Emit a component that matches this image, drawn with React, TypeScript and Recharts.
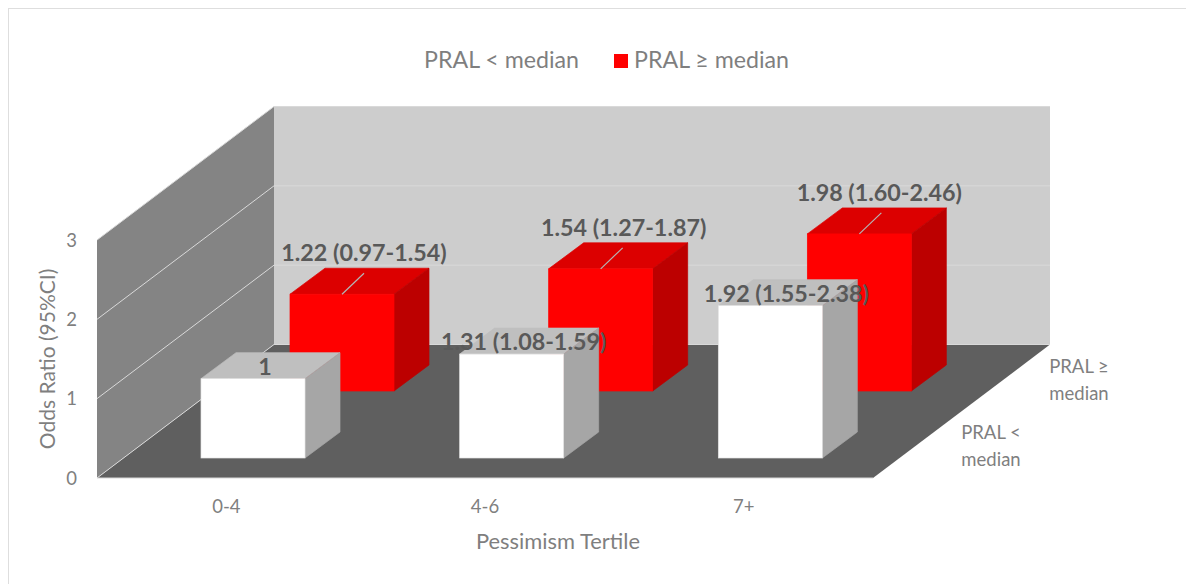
import React from 'react';
import { BarChart, Bar, XAxis, YAxis, Customized, LabelList, Legend, usePlotArea } from 'recharts';

const FONT = 'Lato, "Open Sans", sans-serif';
const categories = ['0-4', '4-6', '7+'];
const lowPral = [1, 1.31, 1.92];
const highPral = [1.22, 1.54, 1.98];
const lowLabels = ['1', '1.31 (1.08-1.59)', '1.92 (1.55-2.38)'];
const highLabels = ['1.22 (0.97-1.54)', '1.54 (1.27-1.87)', '1.98 (1.60-2.46)'];
const yTicks = [0, 1, 2, 3];
const depthLabels = [['PRAL <', 'median'], ['PRAL ≥', 'median']];
const seriesNames = ['PRAL < median', 'PRAL ≥ median'];

const data = categories.map((category, i) => ({
  category,
  low: lowPral[i],
  high: highPral[i],
}));

// Oblique projection of the chart's 3D box
const DEPTH_X = 177;
const DEPTH_Y = 133.5;
const BOX_DX = 35;
const BOX_DY = 26;

const Walls = () => {
  const area = usePlotArea();
  if (!area) return null;
  const { x, y, width, height } = area;
  const bottom = y + height;
  const right = x + width;
  return (
    <g>
      <polygon points={`${x},${y} ${x + DEPTH_X},${y - DEPTH_Y} ${x + DEPTH_X},${bottom - DEPTH_Y} ${x},${bottom}`} fill="#848484" />
      <polygon points={`${x + DEPTH_X},${y - DEPTH_Y} ${right + DEPTH_X},${y - DEPTH_Y} ${right + DEPTH_X},${bottom - DEPTH_Y} ${x + DEPTH_X},${bottom - DEPTH_Y}`} fill="#CDCDCD" />
      <polygon points={`${x},${bottom} ${x + DEPTH_X},${bottom - DEPTH_Y} ${right + DEPTH_X},${bottom - DEPTH_Y} ${right},${bottom}`} fill="#5F5F5F" />
      {yTicks.map((t) => {
        const ty = bottom - (t / 3) * height;
        return (
          <polyline
            key={t}
            points={`${x},${ty} ${x + DEPTH_X},${ty - DEPTH_Y} ${right + DEPTH_X},${ty - DEPTH_Y}`}
            fill="none"
            stroke="#D9D9D9"
            strokeWidth={1}
          />
        );
      })}
      <line x1={x} y1={bottom} x2={right} y2={bottom} stroke="#D9D9D9" strokeWidth={1} />
    </g>
  );
};

const box = (front: string, top: string, side: string, edge: string, dx: number, dy: number) => (props: any) => {
  const { x, y, width, height } = props;
  const l = x + dx;
  const t = y + dy;
  const r = l + width;
  const b = t + height;
  return (
    <g>
      <polygon points={`${l},${t} ${l + BOX_DX},${t - BOX_DY} ${r + BOX_DX},${t - BOX_DY} ${r},${t}`} fill={top} stroke={top} strokeWidth={0.7} />
      <polygon points={`${r},${t} ${r + BOX_DX},${t - BOX_DY} ${r + BOX_DX},${b - BOX_DY} ${r},${b}`} fill={side} stroke={side} strokeWidth={0.7} />
      <rect x={l} y={t} width={width} height={height} fill={front} stroke={edge} strokeWidth={0.7} />
    </g>
  );
};

const LOW_DX = 27;
const LOW_DY = -20;
const HIGH_DX = 116;
const HIGH_DY = -87;
const lowLabelShift = [12, 12, 16];
const highLabelShift = [22, 23, 20];

const dataLabel = (texts: string[], shifts: number[], dx: number, dy: number, leader: boolean) => (props: any) => {
  const { x, y, width, index } = props;
  const cx = x + dx + width / 2;
  const t = y + dy;
  return (
    <g>
      {leader && (
        <line x1={cx} y1={t} x2={cx + 22} y2={t - 21} stroke="#B5B5B5" strokeWidth={1.2} />
      )}
      <text
        x={cx + shifts[index]}
        y={t + (leader ? -33 : -4)}
        textAnchor="middle"
        fontFamily={FONT}
        fontWeight={700}
        fontSize={23.3}
        fill="#595959"
      >
        {texts[index]}
      </text>
    </g>
  );
};

const LegendContent = () => (
  <svg width={420} height={30} style={{ display: 'block', overflow: 'visible' }}>
    <text x={14} y={21} fontFamily={FONT} fontSize={23.2} fill="#7F7F7F">{seriesNames[0]}</text>
    <rect x={204} y={7} width={14} height={14} fill="#FF0000" />
    <text x={224} y={21} fontFamily={FONT} fontSize={23.2} fill="#7F7F7F">{seriesNames[1]}</text>
  </svg>
);

export default function App() {
  return (
    <div style={{ width: 1186, height: 576, position: 'relative' }}>
      <div style={{ position: 'absolute', left: -1, top: -1, width: 1187, height: 577, boxSizing: 'border-box', borderLeft: '2px solid #DEDEDE', borderTop: '2px solid #DEDEDE' }} />
      <BarChart
        width={1178}
        height={576}
        data={data}
        margin={{ top: 232, right: 313, bottom: 46, left: 49 }}
        barSize={104}
        barGap={-104}
        style={{ position: 'absolute', left: 0, top: 0 }}
      >
        <Customized component={<Walls />} />
        <XAxis
          dataKey="category"
          axisLine={false}
          tickLine={false}
          tickMargin={16}
          tick={{ fontFamily: FONT, fontSize: 18.5, fill: '#7F7F7F' }}
          label={{ value: 'Pessimism Tertile', position: 'insideBottom', offset: -41, dx: 73, fontFamily: FONT, fontSize: 21.9, fill: '#7F7F7F' }}
        />
        <YAxis
          domain={[0, 3]}
          ticks={yTicks}
          width={40}
          axisLine={false}
          tickLine={false}
          tickMargin={14}
          tick={{ fontFamily: FONT, fontSize: 18.5, fill: '#7F7F7F' }}
          label={{ value: 'Odds Ratio (95%CI)', angle: -90, position: 'insideLeft', offset: -9, textAnchor: 'middle', fontFamily: FONT, fontSize: 21, fill: '#7F7F7F' }}
        />
        <Bar dataKey="high" name={seriesNames[1]} isAnimationActive={false} shape={box('#FF0000', '#DC0000', '#BC0000', '#FF0000', HIGH_DX, HIGH_DY)}>
          <LabelList dataKey="high" content={dataLabel(highLabels, highLabelShift, HIGH_DX, HIGH_DY, true)} />
        </Bar>
        <Bar dataKey="low" name={seriesNames[0]} isAnimationActive={false} shape={box('#FFFFFF', '#BFBFBF', '#A6A6A6', '#E4E4E4', LOW_DX, LOW_DY)}>
          <LabelList dataKey="low" content={dataLabel(lowLabels, lowLabelShift, LOW_DX, LOW_DY, false)} />
        </Bar>
        <Legend content={<LegendContent />} wrapperStyle={{ position: 'absolute', left: 402, top: 39, width: 420, bottom: 'auto' }} />
      </BarChart>
      {depthLabels.map((lines, i) => (
        <div
          key={i}
          style={{
            position: 'absolute',
            left: i === 0 ? 943 : 1031,
            top: i === 0 ? 411 : 345,
            width: 80,
            textAlign: 'center',
            fontFamily: FONT,
            fontSize: 18.5,
            lineHeight: '26.5px',
            color: '#7F7F7F',
          }}
        >
          {lines.map((l) => (<div key={l}>{l}</div>))}
        </div>
      ))}
    </div>
  );
}
